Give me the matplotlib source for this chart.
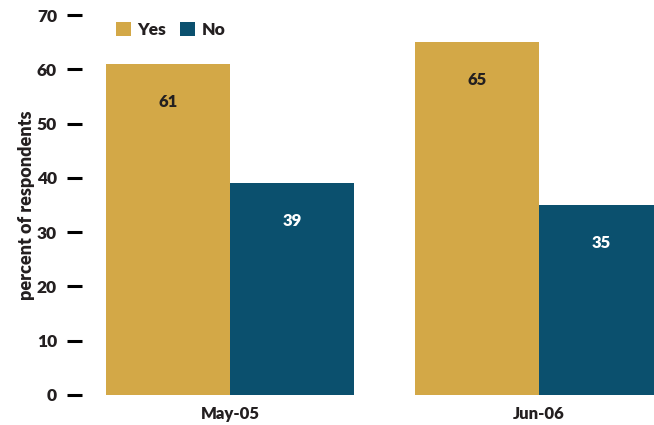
import matplotlib
matplotlib.use("Agg")
import matplotlib.pyplot as plt
import numpy as np

categories = ["May-05", "Jun-06"]
series_names = ["Yes", "No"]
yes_values = [61, 65]
no_values = [39, 35]
yticks = [0, 10, 20, 30, 40, 50, 60, 70]

colors = {"Yes": "#D3A847", "No": "#0B506E"}
txt = "#231F20"
WT = "heavy"
plt.rcParams['font.family'] = ['Lato', 'DejaVu Sans']
plt.rcParams['font.weight'] = WT

fig = plt.figure(figsize=(6.54, 4.25), dpi=100)
ax = fig.add_axes([0.1254, 0.0706, 0.8746, 0.8941])

x = np.arange(len(categories))
w = 0.401
b1 = ax.bar(x - w / 2, yes_values, w, color=colors["Yes"], label="Yes")
b2 = ax.bar(x + w / 2, no_values, w, color=colors["No"], label="No")

for bars, vals, tc in [(b1, yes_values, txt), (b2, no_values, "white")]:
    for r, v in zip(bars, vals):
        ax.annotate(str(v), (r.get_x() + r.get_width() / 2, v), xytext=(0, -27.5),
                    textcoords="offset points", ha="center", va="center",
                    fontsize=12, fontweight=WT, color=tc)

ax.set_xlim(-0.479, 1.372)
ax.set_ylim(0, 70)
ax.set_yticks(yticks)
ax.set_xticks(x)
ax.set_xticklabels(categories, fontsize=12, fontweight=WT, color=txt)
for lab in ax.get_yticklabels():
    lab.set_fontweight(WT)
ax.tick_params(axis="y", length=11, width=2.2, pad=7, labelsize=12.5, colors="black",
               labelcolor=txt)
ax.tick_params(axis="x", length=0, pad=8)
for s in ax.spines.values():
    s.set_visible(False)
ax.set_ylabel("percent of respondents", fontsize=13, fontweight=WT, color=txt,
              labelpad=1.5)
leg = ax.legend(loc="upper left", bbox_to_anchor=(0.047, 1.0), frameon=False, ncol=2,
                fontsize=12.5, handlelength=0.85, handleheight=0.85, handletextpad=0.4,
                columnspacing=0.8, borderaxespad=0.0)
for t in leg.get_texts():
    t.set_fontweight(WT)
    t.set_color(txt)
fig.savefig("out.png", dpi=100)
